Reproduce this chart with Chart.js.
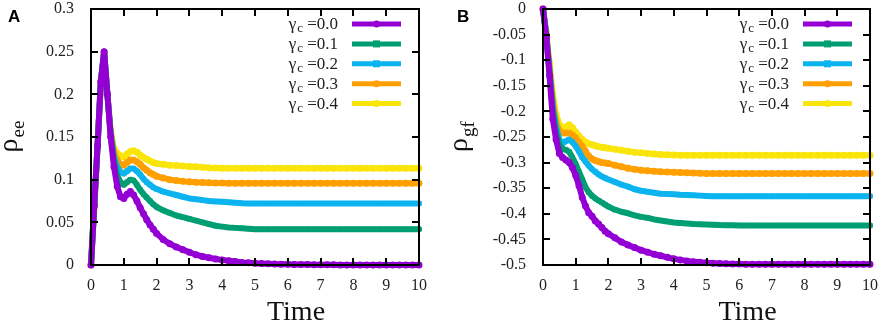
<!DOCTYPE html>
<html><head><meta charset="utf-8">
<script src="https://cdn.jsdelivr.net/npm/chart.js@4"></script>
<style>
html,body{margin:0;padding:0;background:#fff;}
#wrap{position:relative;width:879px;height:323px;overflow:hidden;background:#fff;}
#ca{position:absolute;left:0;top:0;}
#cb{position:absolute;left:440px;top:0;}
</style></head><body>
<div id="wrap"><canvas id="ca" width="440" height="323"></canvas><canvas id="cb" width="439" height="323"></canvas></div>
<script>
// ---- data ----
const times = [0,0.1,0.2,0.3,0.4,0.5,0.6,0.7,0.8,0.9,1.0,1.1,1.2,1.3,1.4,1.5,1.6,1.7,1.8,1.9,2.0,
  2.2,2.4,2.6,2.8,3.0,3.2,3.4,3.6,3.8,4.0,4.2,4.4,4.6,4.8,5.0,
  5.2,5.4,5.6,5.8,6.0,6.2,6.4,6.6,6.8,7.0,7.2,7.4,7.6,7.8,8.0,8.2,8.4,8.6,8.8,9.0,9.2,9.4,9.6,9.8,10.0];
const gammaValues = ['0.0','0.1','0.2','0.3','0.4'];

const rhoEE_g00 = [0,0.07,0.14,0.215,0.25,0.2,0.15,0.115,0.092,0.08,0.078,0.083,0.086,0.082,0.075,0.067,0.06,0.053,0.047,0.042,0.037,
  0.03,0.025,0.021,0.018,0.015,0.012,0.01,0.0085,0.007,0.006,0.005,0.004,0.003,0.0025,0.002,
  0.0017,0.0014,0.0012,0.001,0.0008,0.0007,0.0006,0.0005,0.0004,0.0003,0.0002,0.0002,0.0001,0.0001,0,0,0,0,0,0,0,0,0,0,0];
const rhoEE_g01 = [0,0.07,0.14,0.215,0.25,0.2,0.152,0.122,0.105,0.097,0.094,0.097,0.1,0.099,0.094,0.088,0.083,0.079,0.075,0.071,0.068,
  0.064,0.061,0.058,0.056,0.054,0.052,0.05,0.048,0.046,0.045,0.044,0.0435,0.043,0.0425,0.042,
  0.042,0.042,0.042,0.042,0.042,0.042,0.042,0.042,0.042,0.042,0.042,0.042,0.042,0.042,0.042,0.042,0.042,0.042,0.042,0.042,0.042,0.042,0.042,0.042,0.042];
const rhoEE_g02 = [0,0.07,0.14,0.215,0.25,0.2,0.154,0.127,0.115,0.109,0.107,0.11,0.113,0.113,0.11,0.106,0.101,0.097,0.094,0.091,0.089,
  0.086,0.084,0.082,0.08,0.078,0.077,0.076,0.075,0.0745,0.074,0.0735,0.073,0.0725,0.0722,0.072,
  0.072,0.072,0.072,0.072,0.072,0.072,0.072,0.072,0.072,0.072,0.072,0.072,0.072,0.072,0.072,0.072,0.072,0.072,0.072,0.072,0.072,0.072,0.072,0.072,0.072];
const rhoEE_g03 = [0,0.07,0.14,0.215,0.249,0.2,0.156,0.132,0.123,0.118,0.117,0.12,0.123,0.123,0.121,0.118,0.114,0.111,0.108,0.106,0.104,
  0.102,0.1,0.099,0.098,0.0975,0.097,0.0967,0.0964,0.0962,0.096,0.0959,0.0958,0.0958,0.0958,0.0958,
  0.0958,0.0958,0.0958,0.0958,0.0958,0.0958,0.0958,0.0958,0.0958,0.0958,0.0958,0.0958,0.0958,0.0958,0.0958,0.0958,0.0958,0.0958,0.0958,0.0958,0.0958,0.0958,0.0958,0.0958,0.0958];
const rhoEE_g04 = [0,0.068,0.138,0.21,0.245,0.2,0.158,0.137,0.131,0.128,0.127,0.13,0.133,0.134,0.132,0.129,0.126,0.124,0.122,0.12,0.119,
  0.118,0.117,0.1165,0.116,0.1155,0.115,0.1145,0.114,0.1137,0.1135,0.1134,0.1133,0.1133,0.1133,0.1133,
  0.1133,0.1133,0.1133,0.1133,0.1133,0.1133,0.1133,0.1133,0.1133,0.1133,0.1133,0.1133,0.1133,0.1133,0.1133,0.1133,0.1133,0.1133,0.1133,0.1133,0.1133,0.1133,0.1133,0.1133,0.1133];

const rhoGF_g00 = [0,-0.055,-0.13,-0.215,-0.255,-0.282,-0.29,-0.295,-0.3,-0.31,-0.325,-0.345,-0.368,-0.385,-0.398,-0.405,-0.414,-0.42,-0.427,-0.434,-0.439,
  -0.447,-0.455,-0.461,-0.466,-0.471,-0.475,-0.479,-0.482,-0.485,-0.488,-0.49,-0.492,-0.4935,-0.4948,-0.4958,
  -0.4965,-0.497,-0.4975,-0.498,-0.498,-0.4985,-0.4985,-0.4985,-0.4985,-0.4985,-0.4985,-0.4985,-0.4985,-0.4985,-0.4985,-0.4985,-0.4985,-0.4985,-0.4985,-0.4985,-0.4985,-0.4985,-0.4985,-0.4985,-0.4985];
const rhoGF_g01 = [0,-0.05,-0.125,-0.2,-0.24,-0.265,-0.273,-0.275,-0.279,-0.29,-0.303,-0.318,-0.333,-0.348,-0.358,-0.365,-0.37,-0.374,-0.378,-0.382,-0.386,
  -0.392,-0.396,-0.399,-0.403,-0.406,-0.408,-0.411,-0.413,-0.415,-0.417,-0.418,-0.419,-0.42,-0.4205,-0.421,
  -0.4215,-0.422,-0.4222,-0.4225,-0.4227,-0.4227,-0.4227,-0.4227,-0.4227,-0.4227,-0.4227,-0.4227,-0.4227,-0.4227,-0.4227,-0.4227,-0.4227,-0.4227,-0.4227,-0.4227,-0.4227,-0.4227,-0.4227,-0.4227,-0.4227];
const rhoGF_g02 = [0,-0.05,-0.12,-0.19,-0.23,-0.255,-0.262,-0.258,-0.255,-0.26,-0.268,-0.278,-0.29,-0.298,-0.306,-0.313,-0.318,-0.323,-0.327,-0.33,-0.333,
  -0.338,-0.343,-0.347,-0.352,-0.355,-0.357,-0.359,-0.361,-0.3615,-0.362,-0.363,-0.3635,-0.364,-0.3645,-0.365,
  -0.3655,-0.3655,-0.3655,-0.3655,-0.3655,-0.3655,-0.3655,-0.3655,-0.3655,-0.3655,-0.3655,-0.3655,-0.3655,-0.3655,-0.3655,-0.3655,-0.3655,-0.3655,-0.3655,-0.3655,-0.3655,-0.3655,-0.3655,-0.3655,-0.3655];
const rhoGF_g03 = [0,-0.05,-0.115,-0.18,-0.22,-0.238,-0.242,-0.242,-0.242,-0.246,-0.252,-0.26,-0.268,-0.278,-0.287,-0.293,-0.296,-0.298,-0.3,-0.301,-0.302,
  -0.305,-0.308,-0.311,-0.313,-0.315,-0.316,-0.317,-0.318,-0.3185,-0.319,-0.3195,-0.32,-0.3205,-0.321,-0.3213,
  -0.3214,-0.3214,-0.3214,-0.3214,-0.3214,-0.3214,-0.3214,-0.3214,-0.3214,-0.3214,-0.3214,-0.3214,-0.3214,-0.3214,-0.3214,-0.3214,-0.3214,-0.3214,-0.3214,-0.3214,-0.3214,-0.3214,-0.3214,-0.3214,-0.3214];
const rhoGF_g04 = [0,-0.045,-0.105,-0.165,-0.205,-0.225,-0.232,-0.23,-0.226,-0.232,-0.24,-0.248,-0.255,-0.26,-0.263,-0.265,-0.267,-0.269,-0.27,-0.271,-0.272,
  -0.274,-0.276,-0.278,-0.28,-0.281,-0.282,-0.283,-0.284,-0.2845,-0.285,-0.2855,-0.2857,-0.2857,-0.2857,-0.2857,
  -0.2857,-0.2857,-0.2857,-0.2857,-0.2857,-0.2857,-0.2857,-0.2857,-0.2857,-0.2857,-0.2857,-0.2857,-0.2857,-0.2857,-0.2857,-0.2857,-0.2857,-0.2857,-0.2857,-0.2857,-0.2857,-0.2857,-0.2857,-0.2857,-0.2857];

const xTickValues = [0,1,2,3,4,5,6,7,8,9,10];
const xTickLabels = ['0','1','2','3','4','5','6','7','8','9','10'];
const yTickValuesA = [0,0.05,0.1,0.15,0.2,0.25,0.3];
const yTickLabelsA = ['0','0.05','0.1','0.15','0.2','0.25','0.3'];
const yTickValuesB = [-0.5,-0.45,-0.4,-0.35,-0.3,-0.25,-0.2,-0.15,-0.1,-0.05,0];
const yTickLabelsB = ['-0.5','-0.45','-0.4','-0.35','-0.3','-0.25','-0.2','-0.15','-0.1','-0.05','0'];

// ---- styles ----
const seriesColors = ['#9400D3','#009E73','#0BB4EE','#FFA000','#FAE50A'];
const seriesPoints = ['circle','rect','rect','circle','circle'];
const SERIF = '"Liberation Serif", "Times New Roman", serif';

function makeDatasets(seriesList){
  return seriesList.map((vals, i) => ({
    label: 'γc =' + gammaValues[i],
    data: times.map((t, k) => ({x: t, y: vals[k]})),
    borderColor: seriesColors[i],
    backgroundColor: seriesColors[i],
    borderWidth: 6,
    borderJoinStyle: 'round',
    borderCapStyle: 'round',
    pointStyle: seriesPoints[i],
    pointRadius: 3.5,
    pointBorderWidth: 0,
    pointHoverRadius: 3.5,
    tension: 0,
    fill: false,
    clip: false
  }));
}

function gnuplotPlugin(opts){
  return {
    id: 'gnutext' + opts.panel.toLowerCase(),
    afterDraw(chart){
      const ctx = chart.ctx, a = chart.chartArea;
      const xs = chart.scales.x, ys = chart.scales.y;
      const L = Math.round(a.left), R = Math.round(a.right), T = Math.round(a.top), B = Math.round(a.bottom);
      ctx.save();
      ctx.globalCompositeOperation = 'source-over';
      ctx.globalAlpha = 1;
      ctx.setLineDash([]);
      // frame with inward ticks on all sides (gnuplot style)
      ctx.fillStyle = '#000';
      xTickValues.forEach(v => {
        const p = Math.round(xs.getPixelForValue(v));
        ctx.fillRect(p - 1, B - 7, 2, 7);
        ctx.fillRect(p - 1, T, 2, 7);
      });
      opts.yVals.forEach(v => {
        const p = Math.round(ys.getPixelForValue(v));
        ctx.fillRect(L, p - 1, 7, 2);
        ctx.fillRect(R - 7, p - 1, 7, 2);
      });
      ctx.fillRect(L - 1, T - 1, R - L + 2, 2);
      ctx.fillRect(L - 1, B - 1, R - L + 2, 2);
      ctx.fillRect(L - 1, T - 1, 2, B - T + 2);
      ctx.fillRect(R - 1, T - 1, 2, B - T + 2);
      // panel letter
      ctx.font = 'bold 17px "Liberation Sans", Arial, sans-serif';
      ctx.textBaseline = 'alphabetic';
      ctx.textAlign = 'left';
      ctx.fillText(opts.panel, opts.letterX, 22);
      // x title
      ctx.font = '28px ' + SERIF;
      ctx.textAlign = 'center';
      ctx.fillStyle = '#111';
      ctx.fillText('Time', (a.left + a.right) / 2 + 41, 320);
      // y title
      ctx.translate(opts.yTitleX, (a.top + a.bottom) / 2);
      ctx.rotate(-Math.PI / 2);
      ctx.textAlign = 'left';
      ctx.font = '28px ' + SERIF;
      const w1 = ctx.measureText('ρ').width;
      ctx.font = '19px ' + SERIF;
      const w2 = ctx.measureText(opts.sub).width;
      const x0 = -(w1 + w2) / 2;
      ctx.font = '28px ' + SERIF;
      ctx.fillText('ρ', x0, 0);
      ctx.font = '19px ' + SERIF;
      ctx.fillText(opts.sub, x0 + w1 + 1, 7);
      ctx.setTransform(1, 0, 0, 1, 0, 0);
      // legend
      const textRight = a.right - 81;
      const lineL = a.right - 67, lineR = a.right - 18;
      chart.data.datasets.forEach((ds, i) => {
        const yc = 24 + i * 19.9;
        ctx.fillStyle = '#222';
        ctx.textBaseline = 'alphabetic';
        ctx.font = '17px ' + SERIF;
        const tail = ' =' + gammaValues[i];
        const wt = ctx.measureText(tail).width;
        const wg = ctx.measureText('γ').width;
        ctx.font = '13px ' + SERIF;
        const wc = ctx.measureText('c').width;
        const x = textRight - wt - wc - wg - 1;
        ctx.font = '17px ' + SERIF;
        ctx.textAlign = 'left';
        ctx.fillText('γ', x, yc + 5);
        ctx.font = '13px ' + SERIF;
        ctx.fillText('c', x + wg + 1, yc + 8);
        ctx.font = '17px ' + SERIF;
        ctx.fillText(tail, x + wg + wc + 1, yc + 5);
        ctx.strokeStyle = ds.borderColor;
        ctx.lineWidth = 5;
        ctx.beginPath();
        ctx.moveTo(lineL, yc); ctx.lineTo(lineR, yc);
        ctx.stroke();
        ctx.fillStyle = ds.borderColor;
        const mx = (lineL + lineR) / 2;
        if (ds.pointStyle === 'rect') ctx.fillRect(mx - 3.5, yc - 3.5, 7, 7);
        else { ctx.beginPath(); ctx.arc(mx, yc, 3.5, 0, Math.PI * 2); ctx.fill(); }
      });
      ctx.restore();
    }
  };
}

function zeroPad(s){ s.paddingTop = 0; s.paddingBottom = 0; s.paddingLeft = 0; s.paddingRight = 0; }

function makeChart(id, seriesList, yVals, yLabels, yMin, yMax, yWidth, padRight, panelOpts){
  panelOpts.yVals = yVals;
  return new Chart(document.getElementById(id), {
    type: 'line',
    data: { datasets: makeDatasets(seriesList) },
    options: {
      responsive: false,
      animation: false,
      devicePixelRatio: 1,
      events: [],
      layout: { padding: { left: 0, top: 9, right: padRight, bottom: 0 } },
      plugins: { legend: { display: false }, tooltip: { enabled: false } },
      scales: {
        x: {
          type: 'linear', position: 'bottom', min: 0, max: 10,
          afterBuildTicks: s => { s.ticks = xTickValues.map(v => ({ value: v })); },
          afterFit: s => { s.height = 58; zeroPad(s); },
          grid: { display: false, drawTicks: false },
          border: { display: false },
          ticks: {
            autoSkip: false, maxRotation: 0, padding: 11, color: '#222',
            font: { family: SERIF, size: 16 },
            callback: (v, i) => xTickLabels[i]
          }
        },
        y: {
          type: 'linear', position: 'left', min: yMin, max: yMax,
          afterBuildTicks: s => { s.ticks = yVals.map(v => ({ value: v })); },
          afterFit: s => { s.width = yWidth; zeroPad(s); },
          grid: { display: false, drawTicks: false },
          border: { display: false },
          ticks: {
            autoSkip: false, padding: 17, color: '#222',
            font: { family: SERIF, size: 16 },
            callback: (v, i) => yLabels[i]
          }
        }
      }
    },
    plugins: [gnuplotPlugin(panelOpts)]
  });
}

makeChart('ca', [rhoEE_g00, rhoEE_g01, rhoEE_g02, rhoEE_g03, rhoEE_g04],
  yTickValuesA, yTickLabelsA, 0, 0.3, 91, 21,
  { panel: 'A', letterX: 8, yTitleX: 17, sub: 'ee' });
makeChart('cb', [rhoGF_g00, rhoGF_g01, rhoGF_g02, rhoGF_g03, rhoGF_g04],
  yTickValuesB, yTickLabelsB, -0.5, 0, 103, 9,
  { panel: 'B', letterX: 17, yTitleX: 27, sub: 'gf' });
</script>
</body></html>
